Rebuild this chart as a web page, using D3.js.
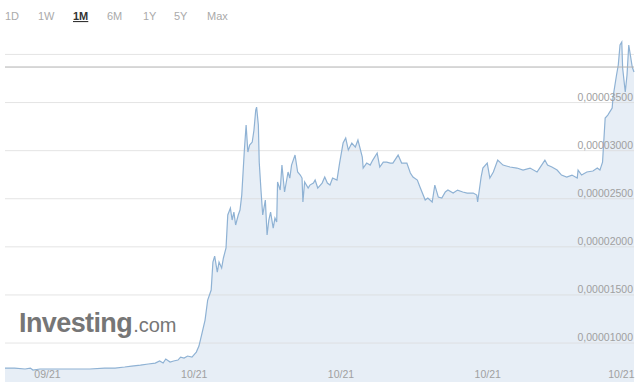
<!DOCTYPE html>
<html>
<head>
<meta charset="utf-8">
<script src="https://cdn.jsdelivr.net/npm/d3@7"></script>
<style>
  body { margin: 0; background: #fff; }
  svg { display: block; font-family: "Liberation Sans", Arial, sans-serif; }
</style>
</head>
<body>
<svg id="chart" width="640" height="390"></svg>
<script>
// range buttons shown above the chart
var ranges = ["1D", "1W", "1M", "6M", "1Y", "5Y", "Max"];
var activeRange = "1M";

// price series: [hours since start, price in units of 1e-5]
var points = [
  [0,.740],[11,.740],[23,.730],[29,.740],[32,.719],[40,.730],[52,.730],[63,.730],[80,.730],[97,.730],
  [114,.740],[126,.740],[137,.751],[145,.761],[155,.771],[164,.782],[172,.792],[177,.813],[181,.792],[184,.834],
  [189,.802],[193,.813],[198,.823],[201,.854],[205,.844],[209,.865],[214,.854],[219,.906],[222,.969],[225,1.083],
  [229,1.239],[232,1.447],[236,1.551],[238,1.842],[240,1.904],[243,1.738],[245,1.842],[248,1.780],[250,1.884],[253,1.988],
  [255,2.331],[258,2.403],[260,2.279],[262,2.362],[264,2.227],[267,2.331],[269,2.383],[271,2.538],[274,3.006],[276,3.266],
  [278,2.985],[280,3.058],[283,3.089],[285,3.214],[287,3.422],[288,3.453],[290,3.266],[291,2.881],[293,2.590],[295,2.331],
  [298,2.486],[300,2.123],[302,2.279],[304,2.362],[307,2.195],[309,2.299],[311,2.258],[312,2.674],[315,2.590],[317,2.850],
  [320,2.570],[324,2.778],[326,2.715],[328,2.850],[332,2.954],[335,2.778],[338,2.746],[340,2.715],[341,2.466],[343,2.674],
  [347,2.611],[349,2.642],[353,2.663],[355,2.694],[358,2.611],[363,2.663],[366,2.726],[369,2.663],[372,2.642],[375,2.715],
  [380,2.694],[383,2.871],[387,3.079],[390,3.131],[393,3.006],[397,3.079],[401,3.037],[404,3.110],[409,2.933],[410,2.819],
  [414,2.871],[418,2.850],[421,2.902],[426,2.975],[429,2.830],[433,2.881],[437,2.881],[441,2.871],[444,2.871],[450,2.954],
  [454,2.871],[460,2.871],[464,2.767],[467,2.726],[472,2.694],[475,2.622],[481,2.486],[484,2.507],[489,2.466],[492,2.642],
  [496,2.517],[500,2.507],[504,2.570],[507,2.590],[513,2.559],[518,2.590],[524,2.570],[529,2.559],[536,2.559],[540,2.538],
  [541,2.466],[545,2.726],[547,2.819],[552,2.871],[555,2.715],[559,2.778],[564,2.902],[570,2.850],[578,2.830],[586,2.819],
  [593,2.798],[601,2.819],[609,2.778],[612,2.819],[618,2.902],[621,2.850],[626,2.830],[632,2.798],[637,2.746],[643,2.726],
  [649,2.746],[655,2.715],[656,2.798],[660,2.746],[666,2.778],[673,2.788],[678,2.819],[681,2.798],[684,2.881],[687,3.339],
  [690,3.370],[695,3.443],[696,3.557],[700,3.786],[702,3.890],[704,4.098],[706,4.129],[707,3.859],[710,3.609],[712,3.786],
  [714,4.098],[718,3.869],[720,3.817]
];

var startDate = new Date(2021, 8, 22);
var endDate = new Date(2021, 9, 22);
var xTicks = [new Date(2021, 8, 24), new Date(2021, 9, 1), new Date(2021, 9, 8), new Date(2021, 9, 15), new Date(2021, 9, 22)];
var yGrid = [1, 1.5, 2, 2.5, 3, 3.5, 4];
var yLabels = [1, 1.5, 2, 2.5, 3, 3.5];
var refPrice = 3.869; // grey horizontal reference line

var plotLeft = 5, plotRight = 634, plotTop = 30, plotBottom = 382;

var svg = d3.select("#chart");

var x = d3.scaleTime().domain([startDate, endDate]).range([plotLeft, plotRight]);
var y = d3.scaleLinear().domain([0.595, 4.254]).range([plotBottom, plotTop]);

var data = points.map(function(p) {
  return { date: d3.timeHour.offset(startDate, p[0]), v: p[1] };
});

// range buttons
var btn = svg.append("g").attr("class", "ranges");
var btnX = [5, 38, 73, 107, 143, 174, 207];
ranges.forEach(function(r, i) {
  btn.append("text")
    .attr("x", btnX[i]).attr("y", 20)
    .attr("font-size", 11)
    .attr("fill", r == activeRange ? "#333" : "#aaa")
    .attr("font-weight", r == activeRange ? "bold" : "normal")
    .attr("text-decoration", r == activeRange ? "underline" : null)
    .text(r);
});

// area + line
var area = d3.area()
  .x(function(d) { return x(d.date); })
  .y0(plotBottom)
  .y1(function(d) { return y(d.v); });

var line = d3.line()
  .x(function(d) { return x(d.date); })
  .y(function(d) { return y(d.v); });

svg.append("path")
  .datum(data)
  .attr("d", area)
  .attr("fill", "#e7eef6");

// grid lines
svg.append("g").selectAll("line")
  .data(yGrid)
  .enter().append("line")
    .attr("x1", plotLeft).attr("x2", plotRight)
    .attr("y1", function(d) { return y(d); })
    .attr("y2", function(d) { return y(d); })
    .attr("stroke", "#d8d8d8")
    .attr("stroke-opacity", 0.7)
    .attr("stroke-width", 1);

// logo
var logo = svg.append("text")
  .attr("x", 19).attr("y", 332)
  .attr("fill", "#767676");
logo.append("tspan")
  .attr("font-size", 27).attr("font-weight", "bold").attr("letter-spacing", -0.6)
  .text("Investing");
logo.append("tspan")
  .attr("font-size", 20).attr("dx", 1)
  .text(".com");

svg.append("path")
  .datum(data)
  .attr("d", line)
  .attr("fill", "none")
  .attr("stroke", "#8fb2d4")
  .attr("stroke-width", 1.2);

// reference line
svg.append("line")
  .attr("x1", plotLeft).attr("x2", plotRight)
  .attr("y1", y(refPrice)).attr("y2", y(refPrice))
  .attr("stroke", "#b0b0b0")
  .attr("stroke-width", 1);

// y labels
var fmt = d3.format(".8f");
svg.append("g").selectAll("text")
  .data(yLabels)
  .enter().append("text")
    .attr("x", plotRight - 1)
    .attr("y", function(d) { return y(d) - 2; })
    .attr("text-anchor", "end")
    .attr("font-size", 10.5)
    .attr("fill", "#a0a0a0")
    .text(function(d) { return fmt(d * 1e-5).replace(".", ","); });

// x axis
var xAxis = svg.append("g")
  .attr("transform", "translate(0," + 367 + ")")
  .call(d3.axisBottom(x).tickValues(xTicks).tickSize(0).tickPadding(4).tickFormat(d3.timeFormat("%m/%y")));
xAxis.select(".domain").remove();
xAxis.selectAll("text")
  .attr("font-size", 10.5)
  .attr("font-family", "Liberation Sans, Arial, sans-serif")
  .attr("fill", "#a0a0a0");
xAxis.selectAll(".tick").filter(function(d, i) { return i == xTicks.length - 1; })
  .select("text").attr("text-anchor", "end");
</script>
</body>
</html>
